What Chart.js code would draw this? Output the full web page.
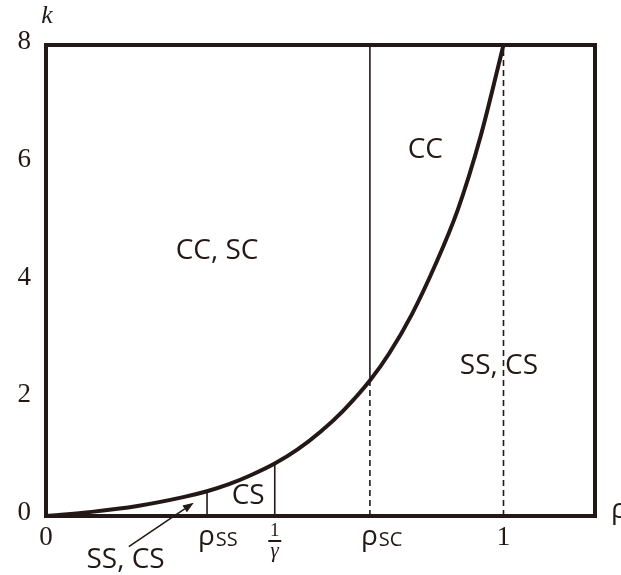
<!DOCTYPE html>
<html>
<head>
<meta charset="utf-8">
<script src="https://cdn.jsdelivr.net/npm/chart.js@4.4.1/dist/chart.umd.min.js"></script>
<style>
  html, body { margin: 0; padding: 0; background: #ffffff; }
  canvas { display: block; }
</style>
</head>
<body>
<canvas id="c" width="621" height="575"></canvas>
<script>
// ---- data ----
const rhoValues = [0, 0.1, 0.2, 0.3, 0.352, 0.4, 0.45, 0.5, 0.55, 0.6, 0.65, 0.708, 0.75, 0.8, 0.85, 0.9, 0.95, 1.0];
const kValues   = [0, 0.07, 0.17, 0.32, 0.42, 0.54, 0.70, 0.89, 1.13, 1.43, 1.79, 2.30, 2.76, 3.43, 4.25, 5.20, 6.45, 8.0];

const RHO_SS = 0.352, K_SS = 0.42;
const INV_GAMMA = 0.5, K_GAMMA = 0.89;
const RHO_SC = 0.708, K_SC = 2.30;
const RHO_ONE = 1.0;
const X_MIN = 0, X_MAX = 1.2;
const Y_MIN = 0, Y_MAX = 8, Y_STEP = 2;

const yTickValues = [0, 2, 4, 6, 8];
const xTickValues = [0, RHO_SS, INV_GAMMA, RHO_SC, 1];
const xTickLabels = ['0', 'ρSS', '1/γ', 'ρSC', '1'];

const regionLabels = ['CC, SC', 'CC', 'SS, CS', 'CS', 'SS, CS'];
const regionAnchors = [[0.374, 4.5], [0.829, 6.21], [0.990, 2.55], [0.442, 0.34], [0.174, -0.75]];
const arrowFrom = [0.181, -0.52];
const arrowTo = [0.323, 0.225];

const INK = '#231815';
const SANS = '"Open Sans", "Noto Sans", sans-serif';
const SERIF = '"Liberation Serif", "DejaVu Serif", serif';

Chart.defaults.font.family = SERIF;
Chart.defaults.color = INK;

const curve = rhoValues.map((r, i) => ({ x: r, y: kValues[i] }));
const seg = (x, y0, y1) => [{ x: x, y: y0 }, { x: x, y: y1 }];

const framePlugin = {
  id: 'frame',
  afterDatasetsDraw(chart) {
    const { ctx, chartArea: a } = chart;
    ctx.save();
    ctx.strokeStyle = INK;
    ctx.lineWidth = 4;
    ctx.lineJoin = 'miter';
    ctx.strokeRect(a.left, a.top, a.right - a.left, a.bottom - a.top);
    ctx.restore();
  }
};

const textPlugin = {
  id: 'texts',
  afterDraw(chart) {
    const { ctx, chartArea: a } = chart;
    const xs = chart.scales.x, ys = chart.scales.y;
    ctx.save();
    ctx.fillStyle = INK;
    ctx.strokeStyle = INK;

    // region labels
    ctx.font = '28px ' + SANS;
    ctx.textAlign = 'center';
    ctx.textBaseline = 'middle';
    regionLabels.forEach((t, i) => {
      ctx.fillText(t, xs.getPixelForValue(regionAnchors[i][0]), ys.getPixelForValue(regionAnchors[i][1]));
    });

    // rho labels with subscripts
    const drawRho = (val, sub) => {
      const px = xs.getPixelForValue(val);
      ctx.textAlign = 'left';
      ctx.textBaseline = 'alphabetic';
      ctx.font = '28px ' + SANS;
      const x0 = px - 9;
      ctx.fillText('ρ', x0, a.bottom + 29);
      const w = ctx.measureText('ρ').width;
      ctx.font = '20px ' + SANS;
      ctx.fillText(sub, x0 + w + 1, a.bottom + 30);
    };
    drawRho(RHO_SS, xTickLabels[1].slice(1));
    drawRho(RHO_SC, xTickLabels[3].slice(1));

    // 1/gamma fraction
    const gx = xs.getPixelForValue(INV_GAMMA);
    ctx.textAlign = 'center';
    ctx.textBaseline = 'alphabetic';
    ctx.font = '19px ' + SERIF;
    ctx.fillText('1', gx, a.bottom + 20);
    ctx.lineWidth = 2;
    ctx.beginPath();
    ctx.moveTo(gx - 6.5, a.bottom + 25);
    ctx.lineTo(gx + 6.5, a.bottom + 25);
    ctx.stroke();
    ctx.font = 'italic 21px ' + SERIF;
    ctx.fillText('γ', gx, a.bottom + 41);

    // axis names
    ctx.font = 'italic 26px ' + SERIF;
    ctx.textAlign = 'center';
    ctx.fillText('k', a.left + 1, a.top - 22);
    ctx.font = '28px ' + SANS;
    ctx.textAlign = 'left';
    ctx.fillText('ρ', a.right + 16, a.bottom + 2);

    // arrow
    const x1 = xs.getPixelForValue(arrowFrom[0]), y1 = ys.getPixelForValue(arrowFrom[1]);
    const x2 = xs.getPixelForValue(arrowTo[0]), y2 = ys.getPixelForValue(arrowTo[1]);
    const ang = Math.atan2(y2 - y1, x2 - x1);
    const hl = 11, hw = 4;
    const bx = x2 - hl * Math.cos(ang), by = y2 - hl * Math.sin(ang);
    ctx.lineWidth = 1.6;
    ctx.beginPath();
    ctx.moveTo(x1, y1);
    ctx.lineTo(bx, by);
    ctx.stroke();
    ctx.beginPath();
    ctx.moveTo(x2, y2);
    ctx.lineTo(bx + hw * Math.sin(ang), by - hw * Math.cos(ang));
    ctx.lineTo(bx - hw * Math.sin(ang), by + hw * Math.cos(ang));
    ctx.closePath();
    ctx.fill();
    ctx.restore();
  }
};

const thin = { borderColor: INK, borderWidth: 1.6, pointRadius: 0, showLine: true, fill: false };

new Chart(document.getElementById('c'), {
  type: 'scatter',
  data: {
    datasets: [
      Object.assign({}, thin, { data: seg(RHO_SS, 0, K_SS) }),
      Object.assign({}, thin, { data: seg(INV_GAMMA, 0, K_GAMMA) }),
      Object.assign({}, thin, { data: seg(RHO_SC, 0, K_SC), borderDash: [6, 4] }),
      Object.assign({}, thin, { data: seg(RHO_SC, K_SC, Y_MAX) }),
      Object.assign({}, thin, { data: seg(RHO_ONE, 0, Y_MAX), borderDash: [6, 4] }),
      { data: curve, showLine: true, borderColor: INK, borderWidth: 4, pointRadius: 0,
        cubicInterpolationMode: 'monotone', fill: false }
    ]
  },
  options: {
    responsive: false,
    animation: false,
    events: [],
    layout: { padding: { top: 45, right: 26, left: 0, bottom: 0 } },
    plugins: { legend: { display: false }, tooltip: { enabled: false } },
    scales: {
      x: {
        type: 'linear', min: X_MIN, max: X_MAX,
        grid: { display: false, drawTicks: false },
        border: { display: false },
        afterBuildTicks: (s) => { s.ticks = xTickValues.map(v => ({ value: v })); },
        afterFit: (s) => { s.height = 59; },
        ticks: {
          autoSkip: false, maxRotation: 0, padding: 6, color: INK,
          font: { family: SERIF, size: 27 },
          callback: (v) => { const i = xTickValues.indexOf(v); return (i === 0 || i === 4) ? xTickLabels[i] : ''; }
        }
      },
      y: {
        type: 'linear', min: Y_MIN, max: Y_MAX,
        grid: { display: false, drawTicks: false },
        border: { display: false },
        afterBuildTicks: (s) => { s.ticks = yTickValues.map(v => ({ value: v })); },
        afterFit: (s) => { s.width = 46; },
        ticks: {
          stepSize: Y_STEP, padding: 15, color: INK, labelOffset: -3,
          font: { family: SERIF, size: 27 }
        }
      }
    }
  },
  plugins: [framePlugin, textPlugin]
});
</script>
</body>
</html>
